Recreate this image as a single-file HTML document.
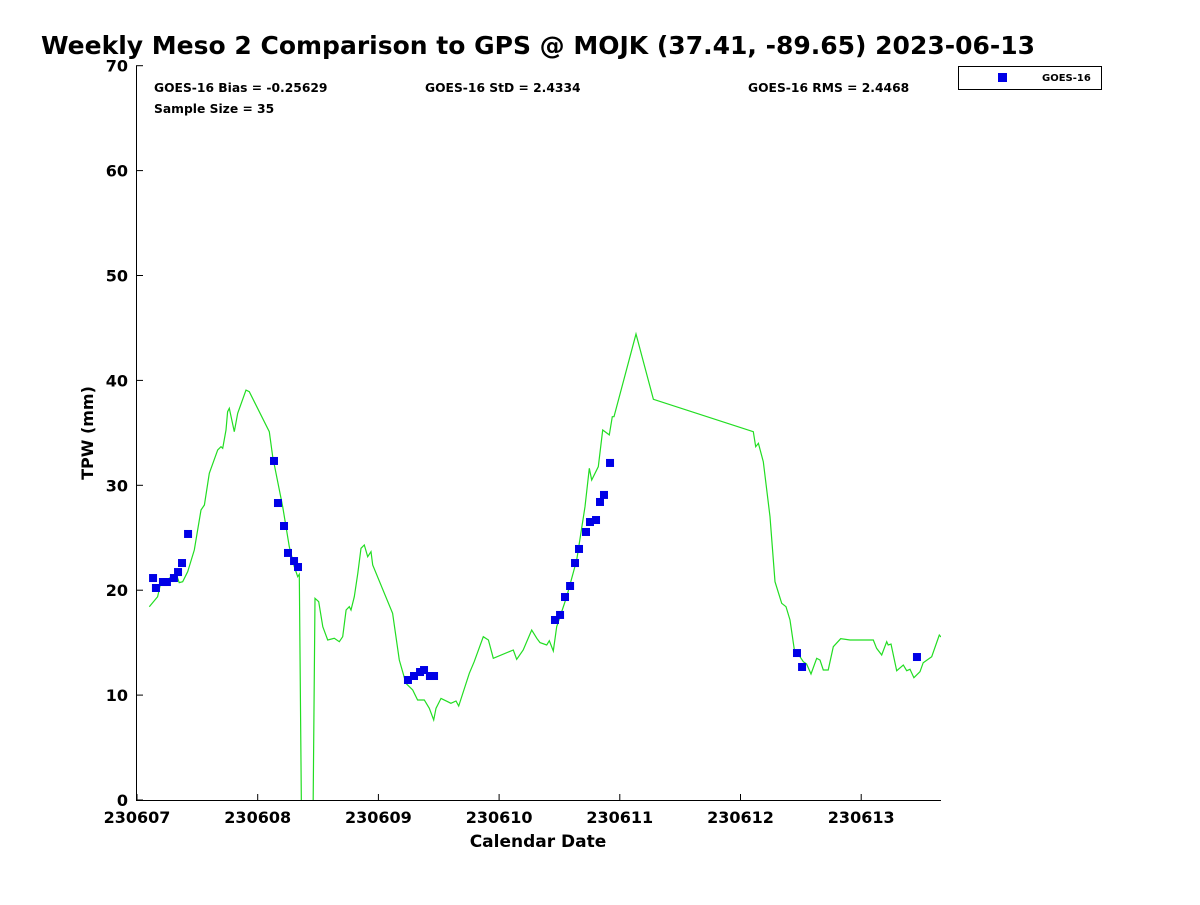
<!DOCTYPE html>
<html><head><meta charset="utf-8"><style>
body{margin:0;background:#fff}
svg text{font-family:"DejaVu Sans","Liberation Sans",sans-serif;font-weight:bold;fill:#000}
</style></head><body>
<svg id="chart" width="1200" height="900" xmlns="http://www.w3.org/2000/svg">
<defs><clipPath id="plotclip"><rect x="136" y="66" width="805" height="734"/></clipPath></defs>
<text x="41" y="54" font-size="25">Weekly Meso 2 Comparison to GPS @ MOJK (37.41, -89.65) 2023-06-13</text>
<text x="154" y="92" font-size="12.3">GOES-16 Bias = -0.25629</text>
<text x="425" y="92" font-size="12.3">GOES-16 StD = 2.4334</text>
<text x="748" y="92" font-size="12.3">GOES-16 RMS = 2.4468</text>
<text x="154" y="113" font-size="12.3">Sample Size = 35</text>
<g>
<rect x="958.5" y="66.5" width="143" height="23" fill="#fff" stroke="#000" stroke-width="1"/>
<rect x="998" y="73" width="9" height="9" fill="#0000e6"/>
<text x="1042" y="81" font-size="10">GOES-16</text>
</g>
<text font-size="16" text-anchor="middle" transform="translate(93,433) rotate(-90)">TPW (mm)</text>
<text x="538" y="847" font-size="17" text-anchor="middle">Calendar Date</text>
<g id="axes"></g>
<g id="marks" clip-path="url(#plotclip)"></g>
</svg>
<script>
const xTickLabels=["230607","230608","230609","230610","230611","230612","230613"];
const yTicks=[0,10,20,30,40,50,60,70];
const gpsDays=[0.102,0.171,0.199,0.268,0.323,0.350,0.379,0.420,0.475,0.530,0.558,0.599,0.669,0.696,0.710,0.737,0.751,0.765,0.806,0.834,0.903,0.930,1.096,1.124,1.207,1.262,1.303,1.331,1.345,1.365,1.456,1.475,1.505,1.539,1.580,1.635,1.676,1.704,1.732,1.759,1.773,1.800,1.829,1.856,1.883,1.911,1.939,1.953,2.118,2.173,2.229,2.284,2.325,2.380,2.422,2.458,2.477,2.519,2.574,2.601,2.643,2.665,2.753,2.794,2.869,2.911,2.952,3.118,3.146,3.200,3.270,3.312,3.339,3.394,3.416,3.449,3.477,3.560,3.643,3.712,3.747,3.767,3.822,3.858,3.913,3.938,3.952,4.134,4.278,5.106,5.126,5.148,5.189,5.244,5.286,5.341,5.377,5.410,5.452,5.493,5.520,5.548,5.584,5.631,5.659,5.686,5.727,5.769,5.830,5.907,6.100,6.128,6.170,6.211,6.224,6.247,6.294,6.349,6.377,6.404,6.437,6.487,6.514,6.584,6.647,6.661];
const gpsTPW=[18.43,19.38,20.81,21.13,21.61,20.72,20.81,21.76,23.83,27.65,28.12,31.14,33.37,33.68,33.53,35.27,37.02,37.34,35.11,36.86,39.08,38.92,35.11,32.73,27.96,24.15,22.24,21.29,21.52,-5,-5,19.23,18.90,16.52,15.25,15.41,15.09,15.57,18.11,18.43,18.11,19.38,21.61,23.99,24.31,23.19,23.67,22.40,17.80,13.35,11.12,10.49,9.53,9.53,8.74,7.63,8.74,9.69,9.37,9.22,9.44,8.96,12.08,13.18,15.57,15.25,13.51,14.30,13.41,14.30,16.21,15.41,15.00,14.78,15.19,14.20,16.52,19.38,22.88,27.96,31.62,30.51,31.77,35.27,34.80,36.54,36.54,44.42,38.20,35.11,33.68,34.00,32.25,27.01,20.81,18.75,18.43,17.16,13.82,13.66,13.18,12.96,12.01,13.51,13.35,12.39,12.39,14.61,15.38,15.25,15.25,14.46,13.82,15.09,14.78,14.87,12.33,12.87,12.33,12.46,11.66,12.23,13.09,13.66,15.73,15.54];
const goesDays=[0.133,0.157,0.215,0.248,0.306,0.340,0.373,0.423,1.135,1.168,1.218,1.251,1.301,1.334,2.245,2.295,2.345,2.378,2.427,2.461,3.463,3.505,3.546,3.588,3.629,3.662,3.720,3.753,3.803,3.836,3.869,3.919,5.468,5.510,6.462];
const goesTPW=[21.16,20.21,20.78,20.78,21.16,21.73,22.59,25.36,32.32,28.31,26.12,23.55,22.78,22.21,11.44,11.82,12.20,12.39,11.82,11.82,17.16,17.64,19.35,20.40,22.59,23.93,25.55,26.50,26.69,28.41,29.08,32.13,14.01,12.68,13.63];

const NS="http://www.w3.org/2000/svg";
const X0=137,PXD=120.7,Y0=800,PXV=10.49;
const xs=d=>X0+d*PXD, ys=v=>Y0-v*PXV;
function mk(tag,attrs,parent){const e=document.createElementNS(NS,tag);for(const k in attrs)e.setAttribute(k,attrs[k]);parent.appendChild(e);return e;}
const axes=document.getElementById('axes'), marks=document.getElementById('marks');
const yAxis=mk('line',{x1:136.5,y1:66,x2:136.5,y2:800.5,stroke:'#000','stroke-width':1},axes);


const xAxis=mk('line',{x1:136,y1:800.5,x2:941,y2:800.5,stroke:'#000','stroke-width':1},axes);


yTicks.forEach(v=>{
  const y=ys(v);
  mk('line',{x1:136,y1:y,x2:143,y2:y,stroke:'#000'},axes);
  const t=mk('text',{x:128,y:y+6,'font-size':16,'text-anchor':'end'},axes);
  t.textContent=v;
  
  
});
xTickLabels.forEach((lab,i)=>{
  const x=xs(i);
  mk('line',{x1:x,y1:800,x2:x,y2:794,stroke:'#000'},axes);
  const t=mk('text',{x:x,y:823,'font-size':16,'text-anchor':'middle'},axes);
  t.textContent=lab;
  
  
});
const pts=gpsDays.map((d,i)=>xs(d).toFixed(1)+','+ys(gpsTPW[i]).toFixed(1)).join(' ');
const line=mk('polyline',{points:pts,fill:'none',stroke:'#22dd22','stroke-width':1.2},marks);


goesDays.forEach((d,i)=>{
  const r=mk('rect',{x:xs(d)-4,y:ys(goesTPW[i])-4,width:8,height:8,fill:'#0000e6'},marks);
  
  
});
</script>
</body></html>
